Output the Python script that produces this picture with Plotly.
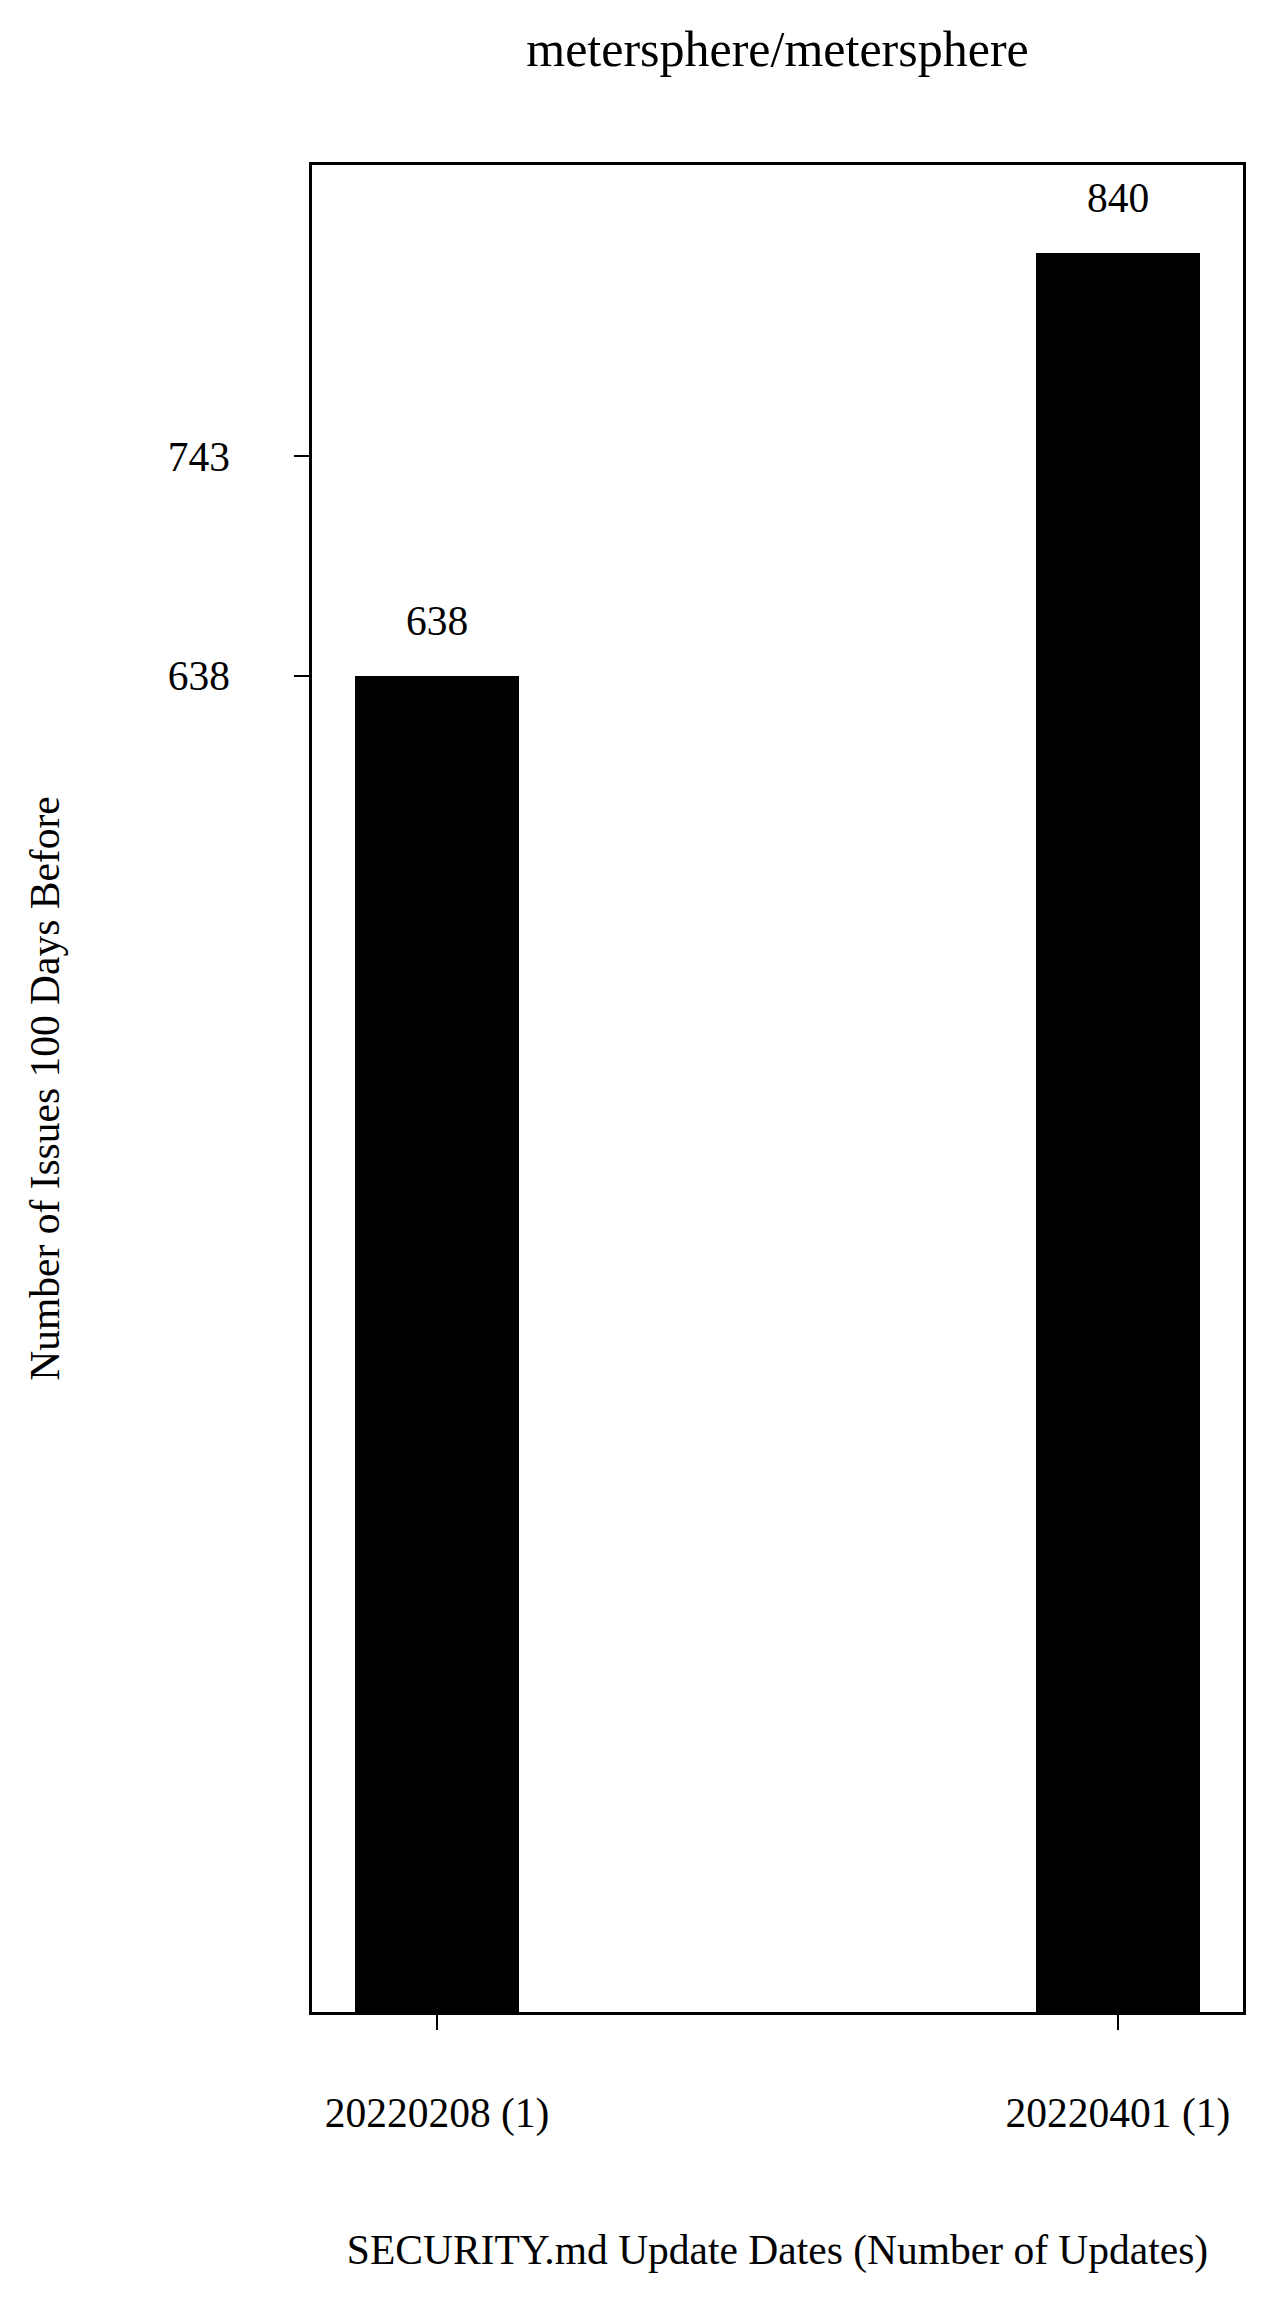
import plotly.graph_objects as go

categories = ["20220208 (1)", "20220401 (1)"]
values = [638, 840]
ytick_vals = [638, 743]
ytick_text = ["638", "743"]
title_text = "metersphere/metersphere"
x_title = "SECURITY.md Update Dates (Number of Updates)"
y_title = "Number of Issues 100 Days Before"

FONT = "Liberation Serif, Times New Roman, serif"
FS = 41.5

fig = go.Figure()
fig.add_trace(go.Bar(
    x=list(range(len(categories))),
    y=values,
    width=0.24,
    marker=dict(color="black", line=dict(width=0)),
    showlegend=False,
    hoverinfo="skip",
))

for i, v in enumerate(values):
    fig.add_annotation(x=i, y=v, text=str(v), showarrow=False,
                       yanchor="bottom", yshift=30,
                       font=dict(family=FONT, size=FS, color="black"))

# page body has an 8px margin, so the paper is shifted by 8px
fig.update_layout(
    width=1263, height=2292,
    margin=dict(l=304, r=28, t=157, b=288),
    paper_bgcolor="white", plot_bgcolor="white",
    font=dict(family=FONT, size=FS, color="black"),
    title=dict(text=title_text, xref="paper", x=0.5, xanchor="center",
               y=1 - 40 / 2292, yanchor="middle",
               font=dict(family=FONT, size=50, color="black")),
    bargap=0,
)
fig.update_xaxes(
    range=[-0.1836, 1.1836],
    tickmode="array", tickvals=list(range(len(categories))), ticktext=categories,
    ticks="outside", ticklen=15, tickwidth=2, tickcolor="black",
    ticklabelstandoff=47,
    showline=True, linecolor="black", linewidth=2.5, mirror=True,
    showgrid=False, zeroline=False,
    title=dict(text=x_title, standoff=100, font=dict(family=FONT, size=FS)),
)
fig.update_yaxes(
    range=[0, 882],
    tickmode="array", tickvals=ytick_vals, ticktext=ytick_text,
    ticks="outside", ticklen=15, tickwidth=2, tickcolor="black",
    ticklabelstandoff=56,
    showline=True, linecolor="black", linewidth=2.5, mirror=True,
    showgrid=False, zeroline=False,
    title=dict(text=y_title, standoff=96, font=dict(family=FONT, size=FS)),
)

fig.write_html("out.html")
